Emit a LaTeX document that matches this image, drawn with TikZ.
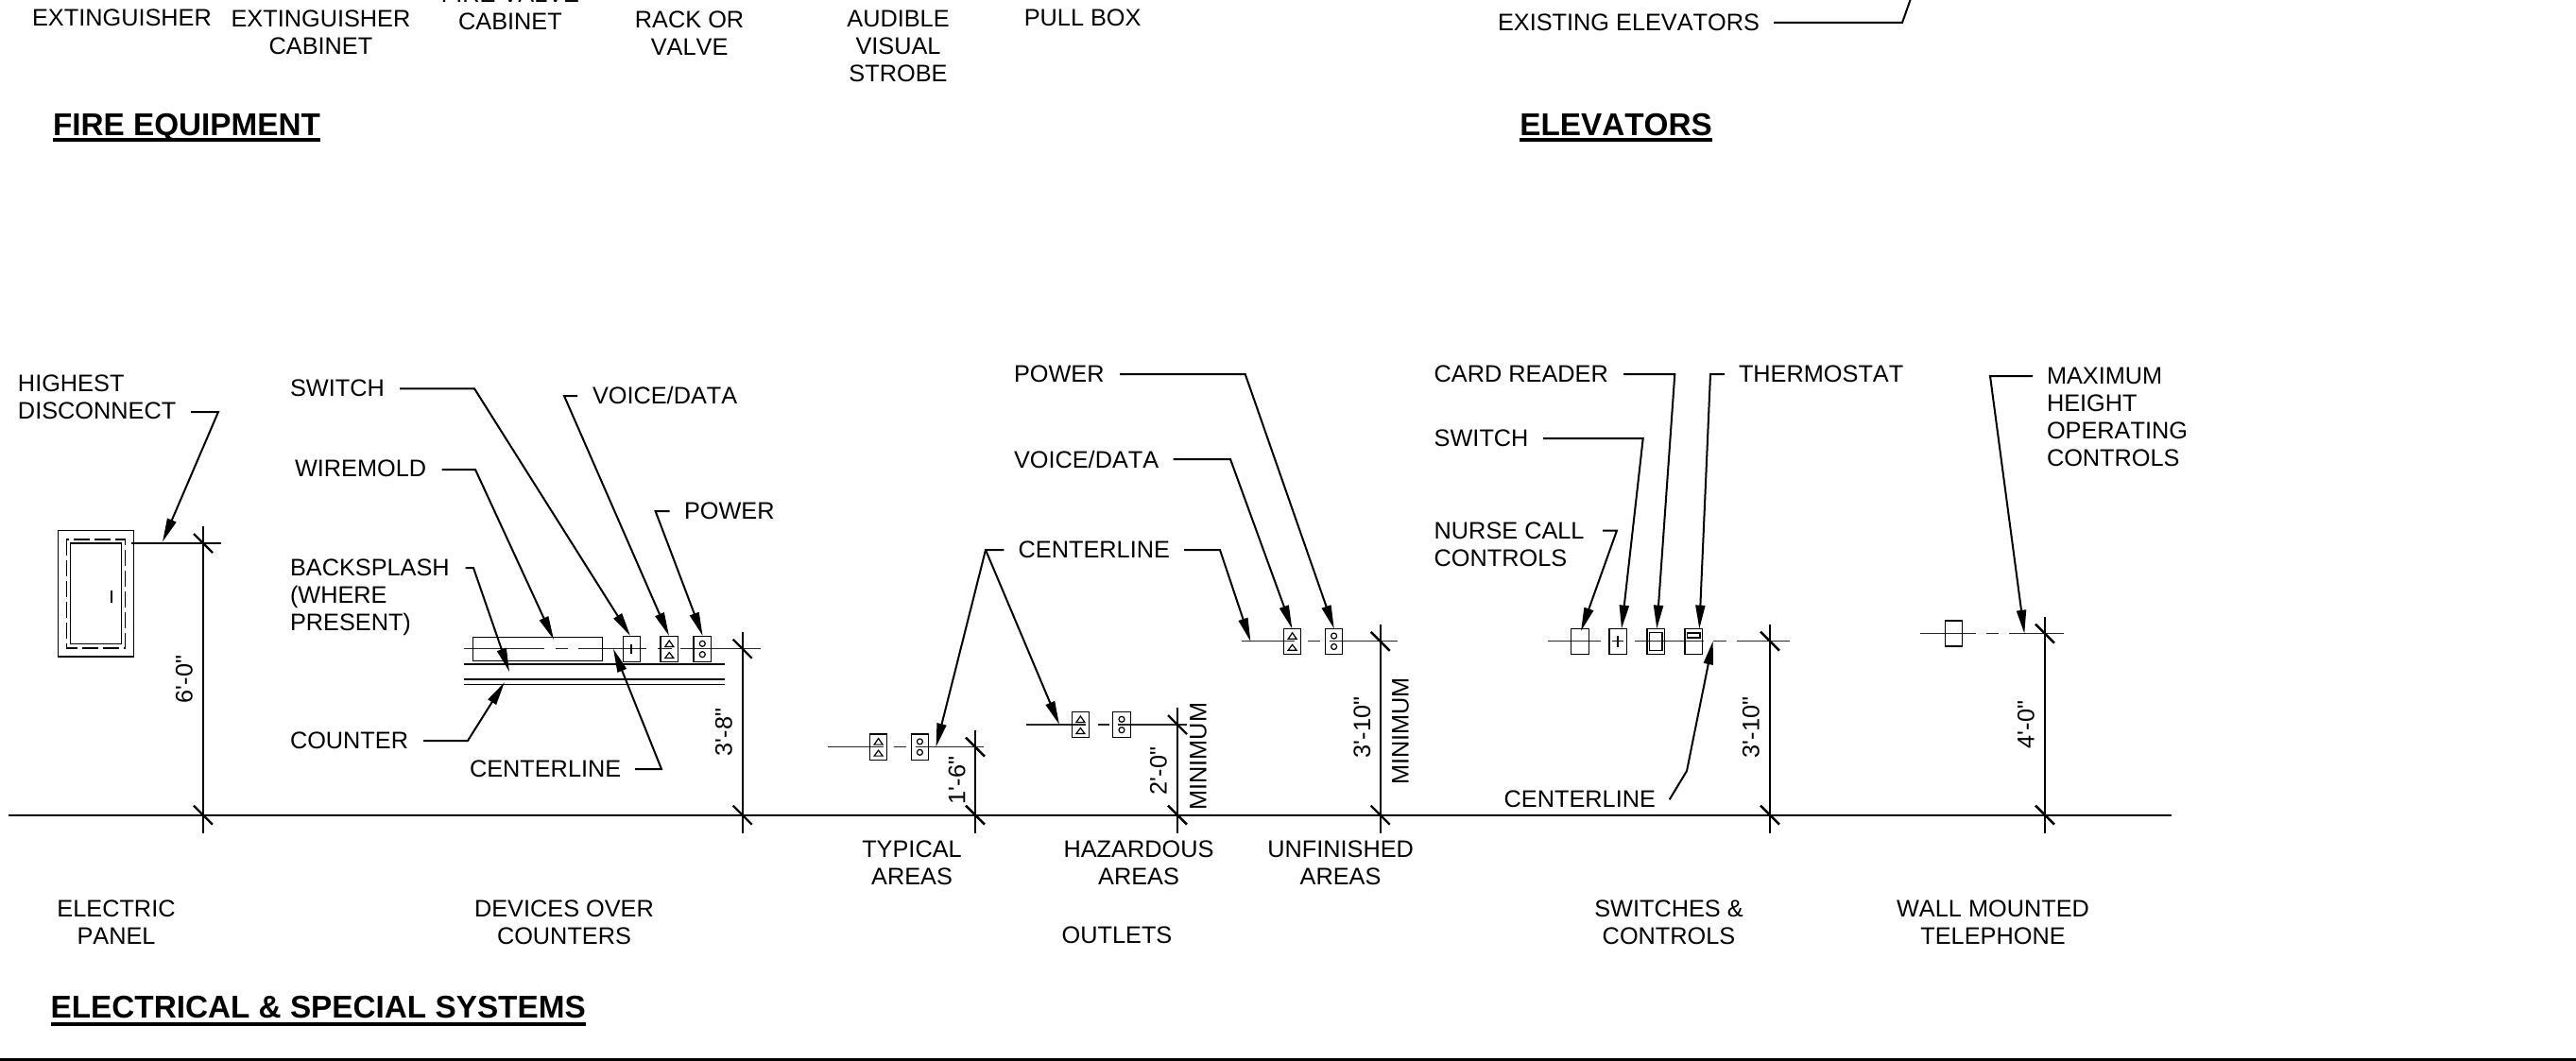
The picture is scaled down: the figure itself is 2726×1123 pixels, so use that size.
\documentclass[tikz,border=0pt]{standalone}
\usepackage{fontspec}
\newfontfamily\labf[Kerning=Off]{Liberation Sans}
\usetikzlibrary{arrows.meta}
\tikzset{
  lab/.style={inner sep=0pt,outer sep=0pt,align=left,font=\labf\fontsize{25.3}{29}\selectfont},
  captext/.style={inner sep=0pt,outer sep=0pt,align=center,font=\labf\fontsize{25.3}{29}\selectfont},
  dimtext/.style={inner sep=0pt,outer sep=0pt,rotate=90,font=\labf\fontsize{25.3}{29}\selectfont},
  head/.style={inner sep=0pt,outer sep=0pt,anchor=base west,font=\labf\bfseries\fontsize{33.3}{36}\selectfont},
  headrule/.style={line width=4pt},
  callout/.style={line width=2pt,line join=miter,-{Triangle[length=25pt,width=10pt]}},
  plainlead/.style={line width=2pt,line join=miter},
  thinline/.style={line width=1.3pt,black!85},
  floorline/.style={line width=1.8pt},
  dimline/.style={line width=2.4pt},
  devbox/.style={line width=1.35pt},
  markline/.style={line width=1.2pt}
}
\newcommand{\ldr}[4]{\coordinate (#1s) at (#2); \coordinate (#1k) at (#3); \coordinate (#1t) at (#4); \draw[callout] (#1s) -- (#1k) -- (#1t);}
\newcommand{\dimv}[3]{\coordinate (#1a) at (#2,#3-18); \coordinate (#1b) at (#2,881.5);
  \draw[dimline] (#1a) -- (#1b);
  \draw[dimline] (#2-10,#3-10) -- (#2+10,#3+10);
  \draw[dimline] (#2-10,852.7) -- (#2+10,872.7);}
\newcommand{\dataplate}[2]{\begin{scope}[shift={(#1,#2)}]
  \draw[devbox] (-9.2,-13.6) rectangle (9.2,13.6);
  \draw[markline] (-4.5,-2.5) -- (0,-9) -- (4.5,-2.5) -- cycle;
  \draw[markline] (-4.5,9.5) -- (0,3.5) -- (4.5,9.5) -- cycle;
\end{scope}}
\newcommand{\powerplate}[2]{\begin{scope}[shift={(#1,#2)}]
  \draw[devbox] (-9.2,-13.6) rectangle (9.2,13.6);
  \draw[markline] (0,-5.7) circle (3);
  \draw[markline] (0,5.7) circle (3);
\end{scope}}
\begin{document}
\begin{tikzpicture}[x=1pt,y=-1pt]
\useasboundingbox (0,0) rectangle (2726,1123);
\clip (0,0) rectangle (2726,1123);
\fill[white] (0,0) rectangle (2726,1123);

% top row labels
\node[captext] (t1) at (129,19) {EXTINGUISHER};
\node[captext] (t2) at (339.5,34) {EXTINGUISHER\\CABINET};
\node[captext] (t3) at (540,8) {FIRE VALVE\\CABINET};
\node[captext] (t4) at (729.6,35) {RACK OR\\VALVE};
\node[captext] (t5) at (950.5,49) {AUDIBLE\\VISUAL\\STROBE};
\node[captext] (t6) at (1145.7,19) {PULL BOX};
\node[lab,anchor=west] (t7) at (1585,24) {EXISTING ELEVATORS};
\coordinate (elA) at (1877,24); \coordinate (elB) at (2013,24); \coordinate (elC) at (2030,-24);
\draw[plainlead] (elA) -- (elB) -- (elC);

% headings
\coordinate (ruleA) at (0,147.7);
\coordinate (ruleB) at (0,1084);
\node[head] (hFire) at (56,143.3) {FIRE EQUIPMENT};
\draw[headrule] (hFire.west |- ruleA) -- (hFire.east |- ruleA);
\node[head] (hElev) at (1608.3,143.3) {ELEVATORS};
\draw[headrule] (hElev.west |- ruleA) -- (hElev.east |- ruleA);
\node[head] (hElec) at (53.6,1077.6) {ELECTRICAL \& SPECIAL SYSTEMS};
\draw[headrule] (hElec.west |- ruleB) -- (hElec.east |- ruleB);
\draw[line width=3.5pt] (0,1121.3) -- (2726,1121.3);

% floor
\draw[floorline] (9,862.7) -- (2298,862.7);

% electric panel
\draw[devbox] (61.3,561.7) rectangle (141.7,695);
\draw[devbox,dash pattern=on 17pt off 5pt] (70.3,571) rectangle (132.7,686);
\draw[devbox] (74.7,575) rectangle (128.3,681.7);
\draw[markline] (118,625) -- (118,638);
\draw[floorline] (139,575) -- (234,575);
\dimv{dA}{215}{575}
\node[dimtext] (dA6) at (195,719) {6'-0"};
\node[lab,anchor=west] (lHD) at (19,420.5) {HIGHEST\\DISCONNECT};
\ldr{hd}{202,436}{231,436}{172,573.5}

% devices over counters
\draw[thinline] (490.7,686.7) -- (575.7,686.7);
\draw[thinline] (587.7,686.7) -- (600.7,686.7);
\draw[thinline] (611.7,686.7) -- (684,686.7);
\draw[thinline] (696,686.7) -- (710.7,686.7);
\draw[thinline] (720,686.7) -- (805,686.7);
\draw[devbox] (500.3,674.7) rectangle (637.3,699.3);
\draw[devbox] (659.3,673.3) rectangle (677.3,700.7);
\draw[markline] (668,682) -- (668,692);
\dataplate{708.3}{687}
\powerplate{743.3}{687}
\draw[devbox] (490.7,703) -- (767.3,703);
\draw[devbox] (490.7,719) -- (767.3,719);
\draw[devbox] (490.7,724.7) -- (767.3,724.7);
\dimv{dB}{785.7}{686.7}
\node[dimtext] (dB6) at (766,775) {3'-8"};
\node[lab,anchor=west] (lSw) at (307,411) {SWITCH};
\ldr{sw}{423,411.3}{502,411.3}{667,673}
\node[lab,anchor=west] (lWm) at (312,496) {WIREMOLD};
\ldr{wm}{467.5,497}{503,497}{586,677}
\node[lab,anchor=west] (lBs) at (307,632.5) {BACKSPLASH\\(WHERE\\PRESENT)};
\ldr{bs}{492.5,601}{501,601}{539,711}
\node[lab,anchor=west] (lVd) at (627,418) {VOICE/DATA};
\ldr{vd}{611,419}{597,419}{708,673}
\node[lab,anchor=west] (lPw) at (724,541) {POWER};
\ldr{pw}{708.6,541}{693.6,541}{743.6,673}
\node[lab,anchor=west] (lCo) at (307,784) {COUNTER};
\ldr{co}{448,784}{495,784}{534,722}
\node[lab,anchor=west] (lCl) at (497,814) {CENTERLINE};
\ldr{cl}{672,814}{700,814}{649,686.7}

% outlets: typical
\draw[thinline] (876,790.6) -- (935,790.6);
\draw[thinline] (945.7,790.6) -- (958.7,790.6);
\draw[thinline] (968.6,790.6) -- (1040.6,790.6);
\dataplate{929.6}{790.6}
\powerplate{973.4}{790.6}
\dimv{dC}{1032}{790.6}
\node[dimtext] (dC6) at (1012.6,826) {1'-6"};
% outlets: hazardous
\draw[thinline] (1086,767) -- (1149,767);
\draw[thinline] (1162,767) -- (1174,767);
\draw[thinline] (1183,767) -- (1255.6,767);
\dataplate{1143.4}{767}
\powerplate{1187}{767}
\dimv{dD}{1246}{767}
\node[dimtext] (dD6) at (1226,816) {2'-0"};
\node[dimtext] (mD) at (1268,800.7) {MINIMUM};
% outlets: unfinished
\draw[thinline] (1314,678.8) -- (1370,678.8);
\draw[thinline] (1384,678.8) -- (1396.5,678.8);
\draw[thinline] (1407,678.8) -- (1479,678.8);
\dataplate{1367.6}{678.8}
\powerplate{1411.6}{678.8}
\dimv{dE}{1460.7}{678.8}
\node[dimtext] (dE6) at (1441.5,770) {3'-10"};
\node[dimtext] (mE) at (1482,774) {MINIMUM};
\node[lab,anchor=west] (lPw2) at (1073,396) {POWER};
\ldr{pb}{1185,396}{1317.7,396}{1411.8,665.6}
\node[lab,anchor=west] (lVd2) at (1073,486) {VOICE/DATA};
\ldr{vb}{1241.5,486}{1302,486}{1367.4,665.6}
\node[lab,anchor=west] (lCl2) at (1077.7,582) {CENTERLINE};
\ldr{cb}{1253,582}{1291,582}{1323.4,679}
\coordinate (ccS) at (1062.4,582); \coordinate (ccK) at (1043,582);
\coordinate (ccA) at (990.5,790.6); \coordinate (ccB) at (1121,767);
\draw[callout] (ccS) -- (ccK) -- (ccA);
\draw[callout] (ccK) -- (ccB);

% switches and controls
\draw[thinline] (1637.7,678.7) -- (1694,678.7);
\draw[thinline] (1730,678.7) -- (1802.7,678.7);
\draw[thinline] (1812.7,678.7) -- (1826.7,678.7);
\draw[thinline] (1837.7,678.7) -- (1894,678.7);
\draw[devbox] (1662.7,665.3) rectangle (1681.3,692.3);
\draw[devbox] (1703,665.3) rectangle (1721.3,692.3);
\draw[markline] (1706,678.7) -- (1718,678.7);
\draw[markline] (1712,672.7) -- (1712,684.7);
\draw[devbox] (1743,665.3) rectangle (1761.3,692.3);
\draw[devbox] (1745.3,669.3) rectangle (1759,688.3);
\draw[devbox] (1783,665.3) rectangle (1801.3,692.3);
\draw[devbox] (1785.3,670) rectangle (1799,675);
\dimv{dF}{1873}{678.7}
\node[dimtext] (dF6) at (1853,770) {3'-10"};
\node[lab,anchor=west] (lCr) at (1517.7,396) {CARD READER};
\ldr{cr}{1718,396}{1772.3,396}{1753.3,665.6}
\node[lab,anchor=west] (lTh) at (1840,396) {THERMOSTAT};
\ldr{th}{1825,396}{1810,396}{1798.3,665.6}
\node[lab,anchor=west] (lSw3) at (1517.7,464) {SWITCH};
\ldr{s3}{1633,464}{1738.7,464}{1716,665.6}
\node[lab,anchor=west] (lNc) at (1517.7,576) {NURSE CALL\\CONTROLS};
\ldr{nc}{1696,561.5}{1711,561.5}{1673,668}
\node[lab,anchor=west] (lCl3) at (1591.7,845.7) {CENTERLINE};
\ldr{c3}{1766.7,846.3}{1785,816}{1812.7,678.4}

% wall telephone
\draw[thinline] (2032,670.7) -- (2090.7,670.7);
\draw[thinline] (2102.3,670.7) -- (2114.7,670.7);
\draw[thinline] (2126,670.7) -- (2184.3,670.7);
\draw[devbox] (2058.3,657) rectangle (2076.7,684);
\dimv{dG}{2164}{670.7}
\node[dimtext] (dG6) at (2144,767) {4'-0"};
\node[lab,anchor=west] (lMx) at (2166,441.5) {MAXIMUM\\HEIGHT\\OPERATING\\CONTROLS};
\ldr{mx}{2151,398}{2106,398}{2142.3,670.7}

% captions
\node[captext] (c1) at (965,913.5) {TYPICAL\\AREAS};
\node[captext] (c2) at (1205,913.5) {HAZARDOUS\\AREAS};
\node[captext] (c3) at (1418.6,913.5) {UNFINISHED\\AREAS};
\node[captext] (c4) at (123,976) {ELECTRIC\\PANEL};
\node[captext] (c5) at (597,976) {DEVICES OVER\\COUNTERS};
\node[captext] (c6) at (1182,990) {OUTLETS};
\node[captext] (c7) at (1766,976) {SWITCHES \&\\CONTROLS};
\node[captext] (c8) at (2109,976) {WALL MOUNTED\\TELEPHONE};
\end{tikzpicture}
\end{document}
